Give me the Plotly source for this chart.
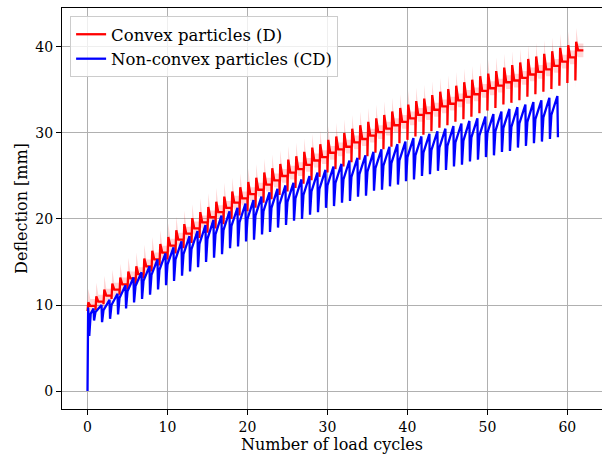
import plotly.graph_objects as go

# ---- data (per load cycle) ----
red_peak = [10.3, 11.0, 11.8, 12.5, 13.2, 13.9, 14.5, 15.4, 16.3, 17.1, 17.9, 18.7, 19.4, 20.1,
            20.8, 21.4, 22.0, 22.6, 23.2, 23.7, 24.3, 24.8, 25.4, 25.9, 26.4, 26.9, 27.3, 27.8,
            28.3, 28.7, 29.2, 29.6, 30.0, 30.5, 30.9, 31.3, 31.7, 32.1, 32.5, 32.9, 33.3, 33.7,
            34.0, 34.4, 34.8, 35.1, 35.5, 35.9, 36.2, 36.6, 36.9, 37.2, 37.6, 37.9, 38.2, 38.6,
            38.9, 39.2, 39.5, 39.9, 40.2, 40.6]
red_trough = [9.3, 9.4, 10.1, 10.7, 11.2, 11.8, 12.3, 13.1, 13.9, 14.6, 15.3, 16.0, 16.6, 17.2,
              17.8, 18.4, 18.9, 19.4, 20.0, 20.4, 20.9, 21.3, 21.9, 22.3, 22.8, 23.2, 23.6, 24.1,
              24.5, 24.9, 25.4, 25.8, 26.1, 26.6, 26.9, 27.3, 27.7, 28.1, 28.4, 28.8, 29.2, 29.6,
              29.8, 30.2, 30.6, 30.9, 31.3, 31.6, 31.9, 32.3, 32.6, 32.9, 33.3, 33.5, 33.8, 34.2,
              34.5, 34.8, 35.1, 35.5, 35.8, 36.1]
red_plateau = [9.9, 10.4, 11.1, 11.8, 12.4, 13.1, 13.6, 14.5, 15.3, 16.1, 16.9, 17.6, 18.3, 18.9,
               19.6, 20.2, 20.8, 21.3, 21.9, 22.4, 22.9, 23.4, 24.0, 24.5, 25.0, 25.4, 25.8, 26.3,
               26.8, 27.2, 27.7, 28.1, 28.4, 28.9, 29.3, 29.7, 30.1, 30.5, 30.9, 31.3, 31.7, 32.1,
               32.3, 32.7, 33.1, 33.4, 33.8, 34.2, 34.5, 34.9, 35.2, 35.5, 35.9, 36.1, 36.4, 36.8,
               37.1, 37.4, 37.8, 38.3, 38.8, 39.6]
red_std = [1.0, 1.6, 0.8, 0.8]  # spread at trough, peak, plateau start, plateau end

blue_start = [0.0, 9.7, 6.4]
blue_knee = [9.0, 9.2, 9.4, 10.0, 10.8, 11.6, 12.2, 12.8, 13.5, 14.1, 14.7, 15.3, 15.9, 16.5,
             17.1, 17.7, 18.2, 18.7, 19.2, 19.6, 20.0, 20.4, 20.9, 21.3, 21.7, 22.0, 22.4, 22.8,
             23.2, 23.5, 23.9, 24.2, 24.6, 24.9, 25.2, 25.5, 25.9, 26.2, 26.5, 26.8, 27.2, 27.4,
             27.7, 28.0, 28.3, 28.5, 28.9, 29.1, 29.5, 29.7, 30.0, 30.2, 30.6, 30.7, 31.1, 31.3,
             31.6, 31.8, 32.1]
blue_peak = [9.6, 10.0, 10.6, 11.3, 12.3, 13.2, 13.8, 14.5, 15.3, 16.0, 16.7, 17.4, 18.0, 18.6,
             19.3, 19.9, 20.4, 20.9, 21.3, 21.8, 22.2, 22.6, 23.1, 23.5, 23.9, 24.2, 24.6, 25.0,
             25.4, 25.7, 26.1, 26.4, 26.8, 27.1, 27.4, 27.8, 28.1, 28.4, 28.7, 29.0, 29.4, 29.6,
             29.9, 30.2, 30.5, 30.8, 31.1, 31.4, 31.7, 31.9, 32.2, 32.5, 32.8, 33.0, 33.3, 33.6,
             33.8, 34.1, 34.3]
blue_trough = [8.2, 8.0, 8.4, 8.9, 9.6, 10.3, 10.7, 11.2, 11.8, 12.3, 12.8, 13.4, 13.9, 14.4,
               15.0, 15.5, 15.9, 16.6, 16.8, 17.4, 17.6, 18.2, 18.5, 19.0, 19.3, 19.8, 20.0, 20.5,
               20.8, 21.3, 21.5, 21.9, 22.1, 22.6, 22.7, 23.3, 23.4, 23.8, 24.0, 24.4, 24.6, 25.0,
               25.2, 25.6, 25.7, 26.1, 26.3, 26.7, 26.9, 27.2, 27.4, 27.8, 27.9, 28.3, 28.5, 28.8,
               29.0, 29.3, 29.5]

x_ticks = [0, 10, 20, 30, 40, 50, 60]
y_ticks = [0, 10, 20, 30, 40]

# ---- build waveforms (phase positions inside each load cycle) ----
red_phase = [0.0, 0.1, 0.35, 1.0]
rx, ry, rup, rlo = [], [], [], []
for i in range(len(red_peak)):
    vals = [red_trough[i], red_peak[i], red_plateau[i], red_plateau[i]]
    for ph, v, s in zip(red_phase, vals, red_std):
        rx.append(i + ph)
        ry.append(v)
        rup.append(v + s)
        rlo.append(v - s)

blue_start_t = [0.0, 0.08, 0.22]
bx, by = list(blue_start_t), list(blue_start)
for i in range(len(blue_peak)):
    bx += [i + (0.4 if i == 0 else 0.0), i + 0.75, i + 0.82]
    by += [blue_knee[i], blue_peak[i], blue_trough[i]]

fig = go.Figure()
fig.add_trace(go.Scatter(x=rx + rx[::-1], y=rup + rlo[::-1], fill="toself",
                         fillcolor="rgba(255,0,0,0.16)", line=dict(width=0),
                         hoverinfo="skip", showlegend=False))
fig.add_trace(go.Scatter(x=rx, y=ry, mode="lines", name="Convex particles (D)",
                         line=dict(color="#ff0000", width=2.3)))
fig.add_trace(go.Scatter(x=bx, y=by, mode="lines", name="Non-convex particles (CD)",
                         line=dict(color="#0000ff", width=2.3)))

font = dict(family="DejaVu Serif", size=13.5, color="black")
fig.update_layout(
    width=602, height=457,
    margin=dict(l=62, r=0, t=8, b=48, autoexpand=False),
    paper_bgcolor="white", plot_bgcolor="white",
    font=font,
    showlegend=True,
    legend=dict(x=0.015, y=0.98, xanchor="left", yanchor="top",
                bgcolor="rgba(255,255,255,0.8)", bordercolor="#cccccc", borderwidth=1,
                font=dict(family="DejaVu Serif", size=16.5, color="black"),
                tracegroupgap=0, itemwidth=30),
)
fig.update_xaxes(range=[-3.19, 64.33], tickvals=x_ticks, ticks="outside", ticklen=5,
                 tickcolor="black", showline=True, linecolor="black", linewidth=1,
                 mirror=True, showgrid=True, gridcolor="#b0b0b0", gridwidth=1,
                 zeroline=False, automargin=False, tickfont=dict(size=14),
                 title=dict(text="Number of load cycles", standoff=4))
fig.update_yaxes(range=[-2.09, 44.53], tickvals=y_ticks, ticks="outside", ticklen=5,
                 tickcolor="black", showline=True, linecolor="black", linewidth=1,
                 showgrid=True, gridcolor="#b0b0b0", gridwidth=1,
                 zeroline=False, automargin=False, tickfont=dict(size=14),
                 title=dict(text="Deflection [mm]", standoff=3))

fig.write_html("out.html", config={"displayModeBar": False},
               post_script="document.body.style.margin='0';")
